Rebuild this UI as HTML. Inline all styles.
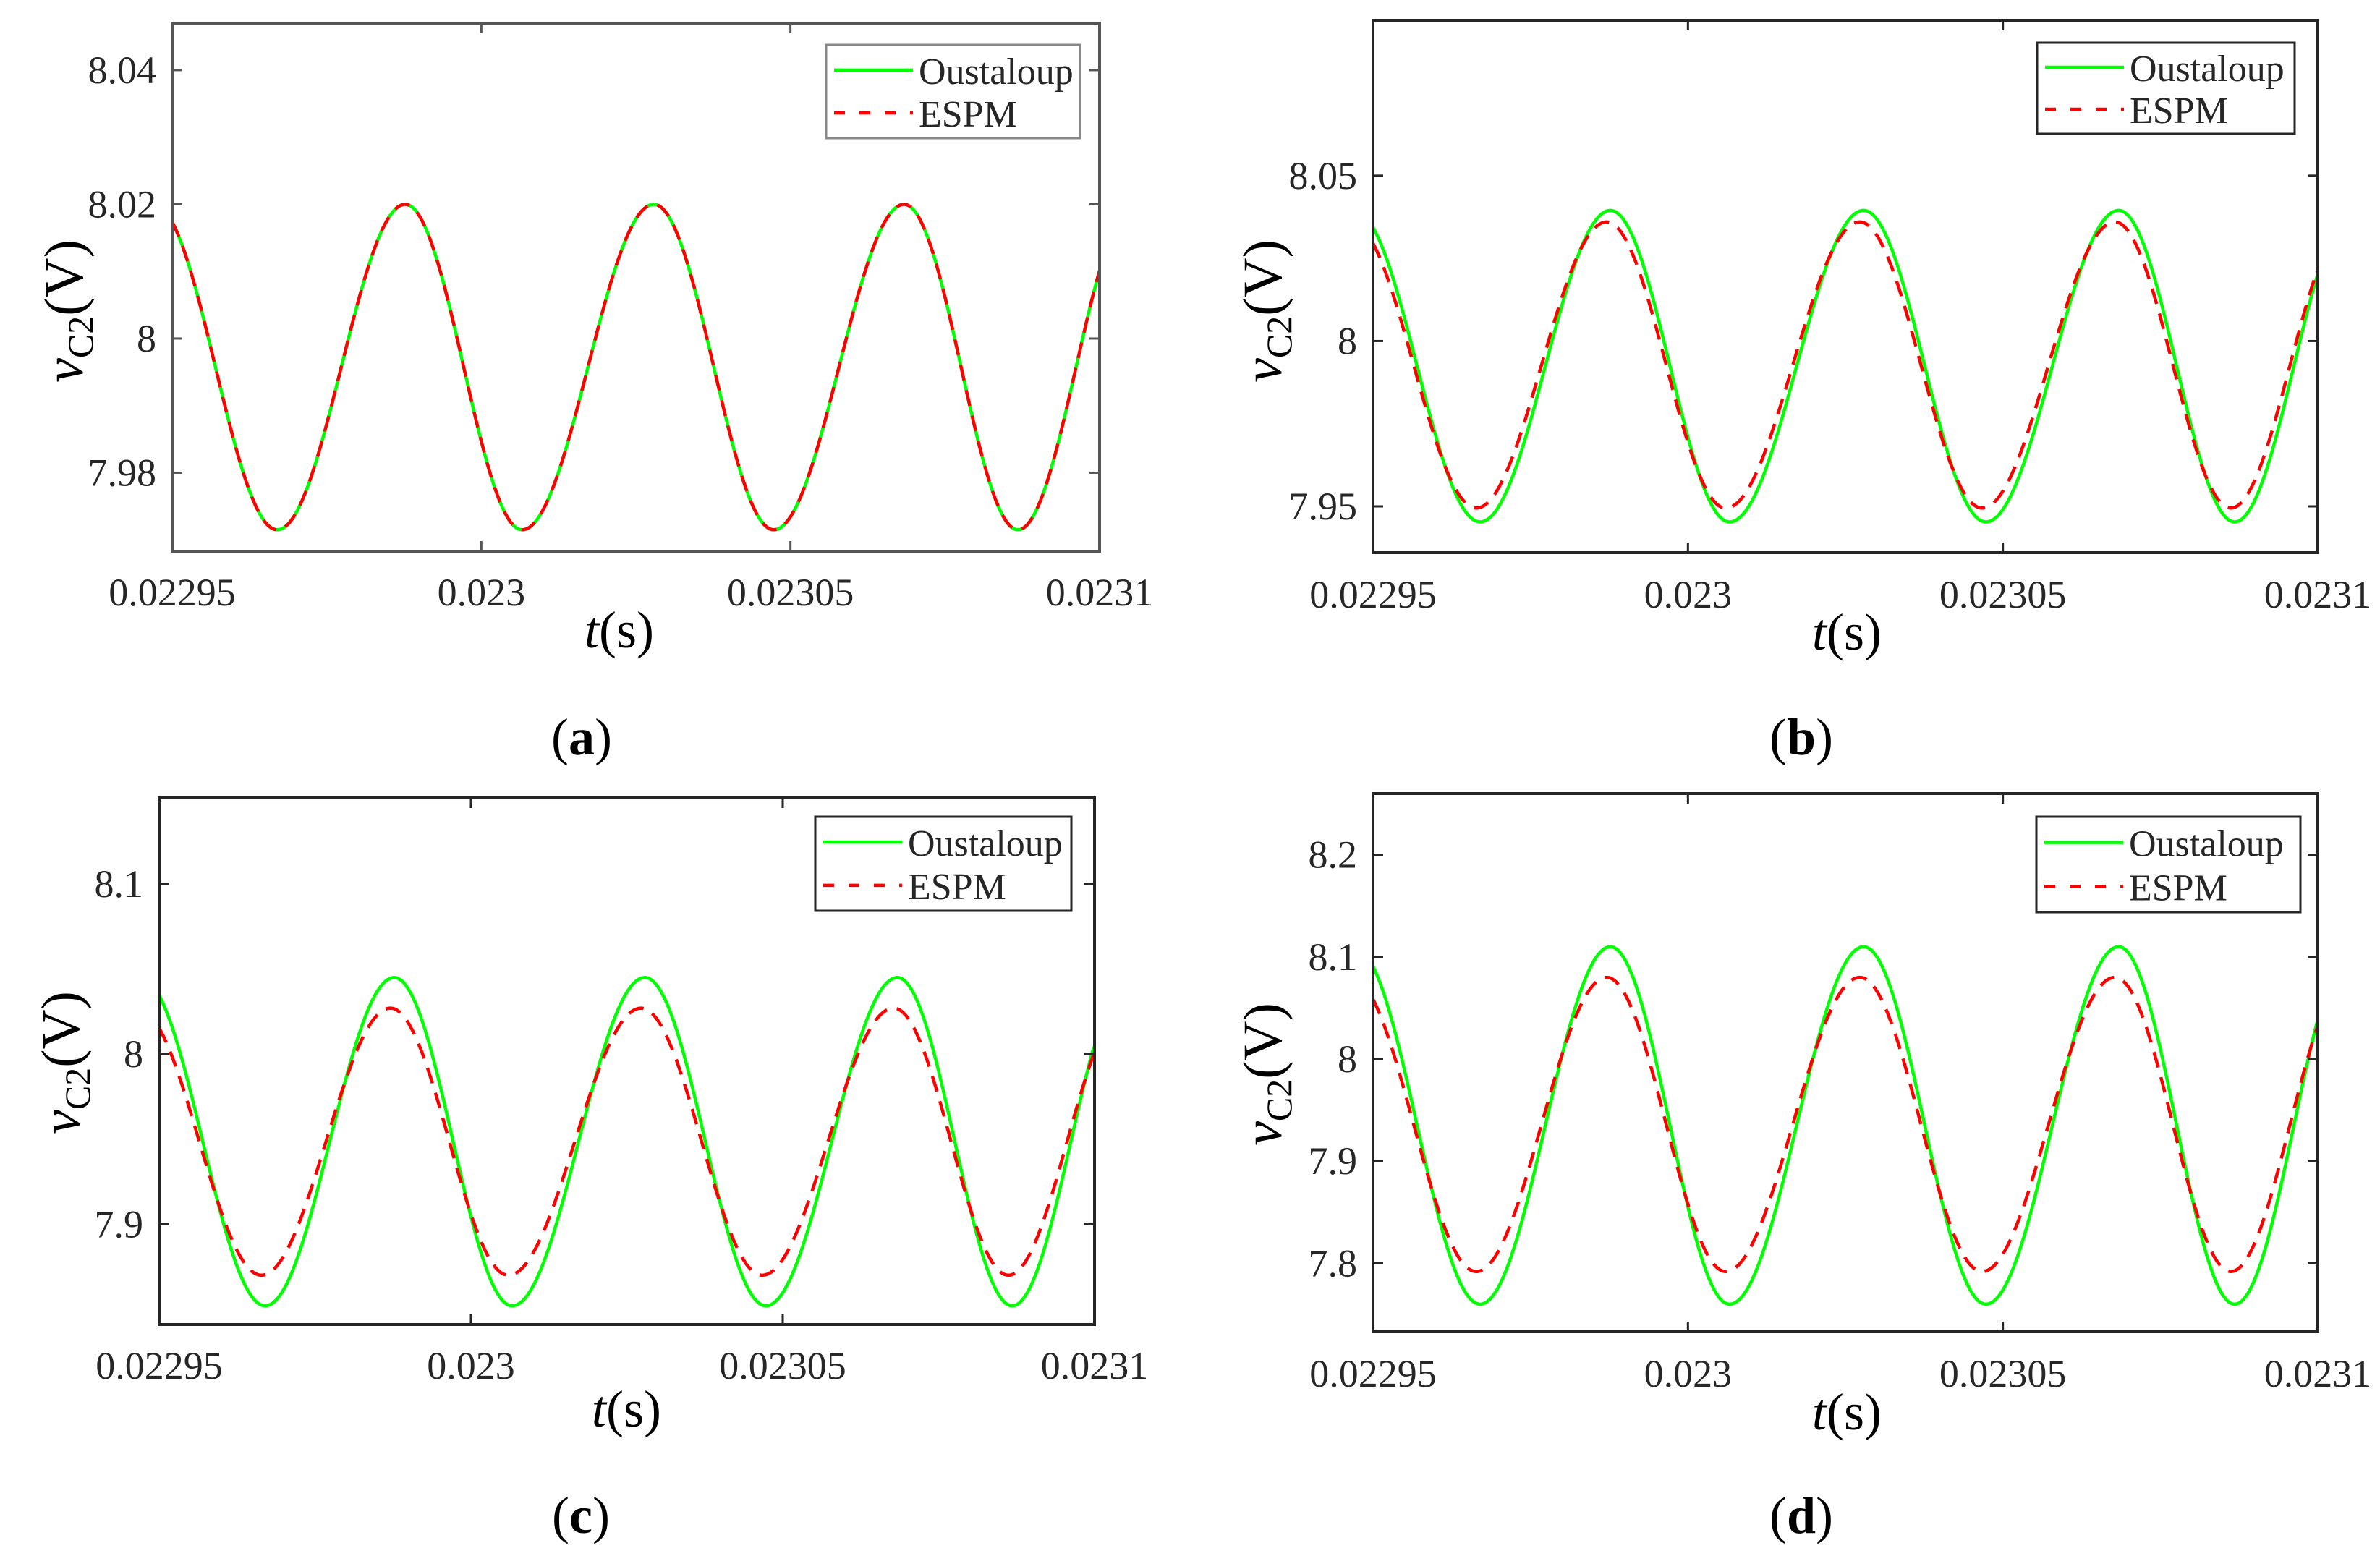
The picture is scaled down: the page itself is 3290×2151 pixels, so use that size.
<!DOCTYPE html>
<html><head><meta charset="utf-8"><style>
html,body{margin:0;padding:0;background:#fff;}
svg{display:block;}
text{font-family:"Liberation Serif",serif;}
</style></head>
<body>
<svg id="fig" width="3290" height="2151" viewBox="0 0 3290 2151" xmlns="http://www.w3.org/2000/svg"></svg>
<script>
// ---- shared axis data ----
const xTicks=[0.02295,0.023,0.02305,0.0231];
const xTickLabels=['0.02295','0.023','0.02305','0.0231'];
// extrema times (peak, min, peak, ...) of the Oustaloup curve and ESPM curve
const greenT=[0.022947,0.022967,0.0229877,0.0230066,0.0230279,0.0230473,0.0230684,0.0230868,0.0231056];
const redT=[0.0229465,0.0229664,0.0229871,0.023006,0.0230273,0.0230467,0.0230678,0.0230862,0.023105];
// panel (a)
const aYTicks=[7.98,8,8.02,8.04];
const aYTickLabels=['7.98','8','8.02','8.04'];
const aGreenV=[8.0200,7.9715,8.0200,7.9715,8.0200,7.9715,8.0200,7.9715,8.0200];
const aRedV=[8.0200,7.9715,8.0200,7.9715,8.0200,7.9715,8.0200,7.9715,8.0200];
// panel (b)
const bYTicks=[7.95,8,8.05];
const bYTickLabels=['7.95','8','8.05'];
const bGreenV=[8.0395,7.9453,8.0395,7.9453,8.0395,7.9453,8.0395,7.9453,8.0395];
const bRedV=[8.036,7.9495,8.036,7.9495,8.036,7.9495,8.036,7.9495,8.036];
// panel (c)
const cYTicks=[7.9,8,8.1];
const cYTickLabels=['7.9','8','8.1'];
const cGreenV=[8.045,7.852,8.045,7.852,8.045,7.852,8.045,7.852,8.045];
const cRedV=[8.027,7.870,8.027,7.870,8.027,7.870,8.027,7.870,8.027];
// panel (d)
const dYTicks=[7.8,7.9,8,8.1,8.2];
const dYTickLabels=['7.8','7.9','8','8.1','8.2'];
const dGreenV=[8.11,7.76,8.11,7.76,8.11,7.76,8.11,7.76,8.11];
const dRedV=[8.08,7.792,8.08,7.792,8.08,7.792,8.08,7.792,8.08];

const NS='http://www.w3.org/2000/svg';
const svg=document.getElementById('fig');
function mk(tag,attrs,parent){const e=document.createElementNS(NS,tag);for(const k in attrs)e.setAttribute(k,attrs[k]);(parent||svg).appendChild(e);return e;}

const layouts=[
 {id:'a',L:238,R:1520,T:32,B:762,ymin:7.9683,ymax:8.047,yt:aYTicks,ytl:aYTickLabels,g:aGreenV,r:aRedV,rt:greenT,
  leg:[1142,62,1493,191],xlb:837,xl:[856,895],cap:[804,1043],yl:[88,430],ax:'#555'},
 {id:'b',L:1898,R:3204,T:28,B:764,ymin:7.936,ymax:8.097,yt:bYTicks,ytl:bYTickLabels,g:bGreenV,r:bRedV,rt:redT,
  leg:[2816,59,3172,185],xlb:840,xl:[2553,898],cap:[2490,1043],yl:[1745,430],ax:'#262626'},
 {id:'c',L:220,R:1513,T:1103,B:1831,ymin:7.841,ymax:8.1506,yt:cYTicks,ytl:cYTickLabels,g:cGreenV,r:cRedV,rt:redT,
  leg:[1127,1129,1481,1259],xlb:1906,xl:[866,1972],cap:[803,2119],yl:[84,1469],ax:'#262626'},
 {id:'d',L:1898,R:3204,T:1097,B:1841,ymin:7.733,ymax:8.26,yt:dYTicks,ytl:dYTickLabels,g:dGreenV,r:dRedV,rt:redT,
  leg:[2815,1129,3180,1261],xlb:1917,xl:[2553,1976],cap:[2490,2119],yl:[1745,1485],ax:'#262626'}
];

function interp(T,V,t){
  let i=0;while(i<T.length-2&&t>T[i+1])i++;
  const f=Math.max(0,Math.min(1,(t-T[i])/(T[i+1]-T[i])));
  return V[i]+(V[i+1]-V[i])*(1-Math.cos(Math.PI*f))/2;
}

layouts.forEach(p=>{
  const g=mk('g',{});
  
  
  const x0=xTicks[0],x1=xTicks[xTicks.length-1];
  const sx=t=>p.L+(t-x0)/(x1-x0)*(p.R-p.L);
  const sy=v=>p.B-(v-p.ymin)/(p.ymax-p.ymin)*(p.B-p.T);
  const cp=mk('clipPath',{id:'clip'+p.id},g);
  mk('rect',{x:p.L,y:p.T,width:p.R-p.L,height:p.B-p.T},cp);
  const series=[[greenT,p.g,'#00ff00','oustaloup-line',null],[p.rt,p.r,'#ff0000','espm-line','22 14']];
  series.forEach(s=>{
    let d='';
    for(let x=p.L;x<=p.R;x+=2){
      const t=x0+(x-p.L)/(p.R-p.L)*(x1-x0);
      d+=(d?'L':'M')+x.toFixed(1)+','+sy(interp(s[0],s[1],t)).toFixed(1);
    }
    const a={d:d,fill:'none',stroke:s[2],'stroke-width':4.5,'clip-path':'url(#clip'+p.id+')'};
    if(s[4])a['stroke-dasharray']=s[4];
    const e=mk('path',a,g);
    
    
  });
  const box=mk('rect',{x:p.L,y:p.T,width:p.R-p.L,height:p.B-p.T,fill:'none',stroke:p.ax,'stroke-width':4},g);
  
  
  xTicks.forEach((t,i)=>{
    const x=sx(t);
    mk('line',{x1:x,y1:p.B,x2:x,y2:p.B-14,stroke:p.ax,'stroke-width':3},g);
    mk('line',{x1:x,y1:p.T,x2:x,y2:p.T+14,stroke:p.ax,'stroke-width':3},g);
    const tx=mk('text',{x:x,y:p.xlb,'font-size':54,'text-anchor':'middle',fill:'#262626'},g);
    tx.textContent=xTickLabels[i];
    
    
  });
  p.yt.forEach((v,i)=>{
    const y=sy(v);
    mk('line',{x1:p.L,y1:y,x2:p.L+14,y2:y,stroke:p.ax,'stroke-width':3},g);
    mk('line',{x1:p.R,y1:y,x2:p.R-14,y2:y,stroke:p.ax,'stroke-width':3},g);
    const tx=mk('text',{x:p.L-22,y:y+18,'font-size':54,'text-anchor':'end',fill:'#262626'},g);
    tx.textContent=p.ytl[i];
    
    
  });
  const xl=mk('text',{x:p.xl[0],y:p.xl[1],'font-size':72,'text-anchor':'middle',fill:'#000'},g);
  xl.innerHTML='<tspan font-style="italic">t</tspan>(s)';
  
  
  const yl=mk('text',{x:0,y:0,'font-size':76,'text-anchor':'middle',fill:'#000',transform:'translate('+p.yl[0]+','+p.yl[1]+') rotate(-90) translate(0,26)'},g);
  yl.innerHTML='<tspan font-style="italic">v</tspan><tspan font-size="50" dy="14">C2</tspan><tspan dy="-14">(V)</tspan>';
  
  
  const cap=mk('text',{x:p.cap[0],y:p.cap[1],'font-size':72,'text-anchor':'middle',fill:'#000'},g);
  cap.innerHTML='(<tspan font-weight="bold">'+p.id+'</tspan>)';
  
  
  const [lx,ly,rx,by]=p.leg;
  const lg=mk('g',{},g);
  
  
  mk('rect',{x:lx,y:ly,width:rx-lx,height:by-ly,fill:'#fff',stroke:p.id==='a'?'#888':'#262626','stroke-width':3},lg);
  const h=by-ly;
  const r1=ly+h*0.27,r2=ly+h*0.73;
  const e1=mk('line',{x1:lx+11,y1:r1,x2:lx+120,y2:r1,stroke:'#00ff00','stroke-width':4.5},lg);
  
  
  const e2=mk('line',{x1:lx+11,y1:r2,x2:lx+120,y2:r2,stroke:'#ff0000','stroke-width':4.5,'stroke-dasharray':'15 20'},lg);
  
  
  const t1=mk('text',{x:lx+128,y:r1+19,'font-size':52,fill:'#262626'},lg);
  t1.textContent='Oustaloup';
  
  
  const t2=mk('text',{x:lx+128,y:r2+19,'font-size':52,fill:'#262626'},lg);
  t2.textContent='ESPM';
  
  
});
</script>
</body></html>
